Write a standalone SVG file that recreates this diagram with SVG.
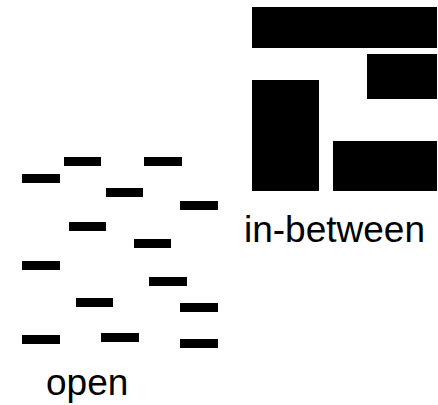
<svg xmlns="http://www.w3.org/2000/svg" width="438" height="405" viewBox="0 0 438 405">
<style>
.b{fill:#000}
.d{fill:#000}
.t{font-family:"Liberation Sans",Arial,sans-serif;font-size:37px;fill:#000}
</style>
<rect width="438" height="405" fill="#fff"/>
<g id="in-between">
<rect class="b" x="252" y="7" width="185" height="41"/>
<rect class="b" x="367" y="54" width="70" height="45"/>
<rect class="b" x="252" y="80" width="67" height="111"/>
<rect class="b" x="333" y="141" width="104" height="50"/>
<text class="t" x="244" y="242">in-between</text>
</g>
<g id="open">
<rect class="d" x="64" y="157" width="37" height="9"/>
<rect class="d" x="144" y="157" width="38" height="9"/>
<rect class="d" x="22" y="174" width="38" height="9"/>
<rect class="d" x="106" y="188" width="37" height="9"/>
<rect class="d" x="180" y="201" width="38" height="9"/>
<rect class="d" x="69" y="222" width="37" height="9"/>
<rect class="d" x="134" y="239" width="37" height="9"/>
<rect class="d" x="22" y="261" width="38" height="9"/>
<rect class="d" x="149" y="277" width="38" height="9"/>
<rect class="d" x="76" y="298" width="37" height="9"/>
<rect class="d" x="180" y="303" width="38" height="9"/>
<rect class="d" x="22" y="335" width="38" height="9"/>
<rect class="d" x="101" y="333" width="38" height="9"/>
<rect class="d" x="180" y="339" width="38" height="9"/>
<text class="t" x="46" y="395">open</text>
</g>
</svg>
